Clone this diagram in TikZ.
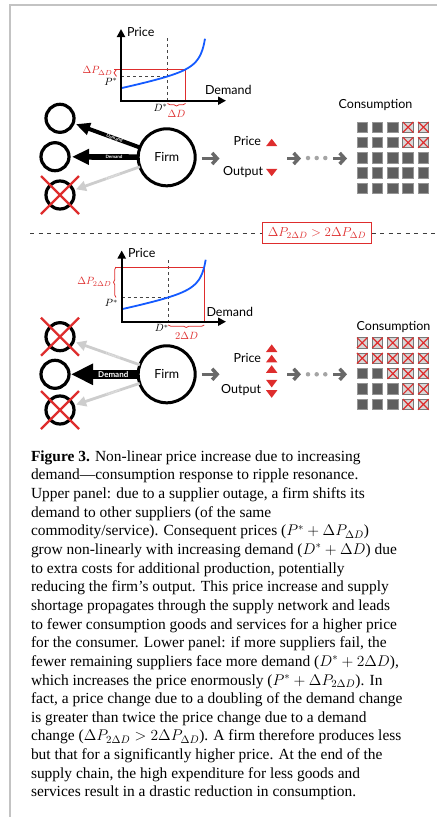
\RequirePackage{fix-cm}
\documentclass[tikz,border=0pt]{standalone}
\usepackage{amsmath,amssymb}
\usepackage{xcolor}
\usepackage{fontspec}
\setmainfont{Liberation Serif}
\newfontfamily\lato{Lato}
\usepackage{tikz}
\usetikzlibrary{arrows.meta,decorations.pathreplacing}

\begin{document}
\begin{tikzpicture}[x=1pt,y=-1pt,
  every node/.style={inner sep=0pt, outer sep=0pt},
  sans/.style={font=\lato\fontsize{12.5}{15}\selectfont},
  mlabel/.style={font=\fontsize{10.5}{12}\selectfont},
  redtext/.style={text={rgb,255:red,222;green,45;blue,45}},
  axisline/.style={line width=2pt,{Triangle[length=8pt,width=8pt]}-{Triangle[length=8pt,width=8pt]}},
  guide/.style={line width=0.9pt,dash pattern=on 3pt off 3pt,color={rgb,255:red,70;green,70;blue,70}},
  curve/.style={line width=1.8pt,color={rgb,255:red,20;green,90;blue,255}},
  redline/.style={line width=1pt,color={rgb,255:red,222;green,45;blue,45}},
  redbrace/.style={line width=0.8pt,color={rgb,255:red,222;green,45;blue,45},decorate,decoration={brace,amplitude=2.5pt}},
  firm/.style={circle,draw,line width=3pt,minimum size=57pt,sans},
  supplier/.style={circle,draw,line width=3.2pt,minimum size=28pt},
  redx/.style={line width=2.3pt,color={rgb,255:red,222;green,45;blue,45}},
  demandtop/.style={line width=4pt,-{Triangle[length=14pt,width=12pt]},shorten >=3pt},
  demandmid/.style={line width=5.7pt,-{Triangle[length=17pt,width=15pt]},shorten >=3pt},
  demandbig/.style={line width=9pt,-{Triangle[length=22pt,width=20pt]},shorten >=2pt},
  demandlost/.style={line width=2.8pt,color={rgb,255:red,205;green,205;blue,205},-{Triangle[length=10pt,width=10pt]},shorten >=3pt},
  tinytext/.style={text=white,font=\lato\bfseries\fontsize{4.5}{5}\selectfont},
  bigtext/.style={text=white,font=\lato\bfseries\fontsize{8}{9}\selectfont},
  fainttext/.style={text={rgb,255:red,240;green,240;blue,240},font=\lato\fontsize{4}{5}\selectfont},
  flow/.style={line width=3.5pt,color={rgb,255:red,105;green,105;blue,105},-{Straight Barb[length=5pt,width=11pt]}},
  chaindot/.style={circle,fill={rgb,255:red,165;green,165;blue,165},minimum size=4.5pt},
  uptri/.style={fill={rgb,255:red,222;green,45;blue,45}},
  good/.style={minimum size=10.5pt,fill={rgb,255:red,95;green,95;blue,95},draw={rgb,255:red,150;green,150;blue,150},line width=0.8pt},
  lost/.style={minimum size=10.5pt,fill={rgb,255:red,215;green,215;blue,215},draw={rgb,255:red,120;green,120;blue,120},line width=0.8pt},
  lostx/.style={line width=1.2pt,color={rgb,255:red,222;green,45;blue,45}},
  sepline/.style={line width=0.8pt,dash pattern=on 4pt off 4.5pt,color={rgb,255:red,60;green,60;blue,60}},
  frame/.style={line width=1.6pt,color={rgb,255:red,195;green,195;blue,195}}]
\useasboundingbox (0,0) rectangle (437,817);
\draw[frame] (10,817) -- (10,5) -- (437,5);

% upper panel: price curve
\coordinate (yA) at (121,29);
\coordinate (oA) at (121,100.7);
\coordinate (xA) at (226,100.7);
\draw[guide] (167.5,38) -- (167.5,100.7);
\draw[guide] (121,76.4) -- (167.5,76.4);
\draw[redline] (114,69.4) -- (185.5,69.4) -- (185.5,100.7);
\draw[curve] plot[domain=0:84,samples=70,smooth] ({121+\x},{100.7-12.5-0.2*\x-210/(90-\x)+2.333});
\draw[axisline] (yA) -- (oA) -- (xA);
\node[sans,anchor=west] (priceA) at (127,31.5) {Price};
\node[sans,anchor=west] (demandA) at (205,89.5) {Demand};
\node[mlabel,redtext,anchor=east] (dpA) at (112.5,71) {$\Delta P_{\Delta D}$};
\draw[redbrace] (116.5,76.4) -- (116.5,69.4);
\node[mlabel,anchor=east] (psA) at (117.5,82) {$P^{*}$};
\node[mlabel] (dsA) at (160.5,107.5) {$D^{*}$};
\draw[redbrace] (185.5,103.5) -- (167.5,103.5);
\node[mlabel,redtext] (ddA) at (176.5,114) {$\Delta D$};

% upper panel: network
\node[firm] (firmA) at (166.7,157.3) {Firm};
\node[supplier] (sA1) at (60,118.3) {};
\node[supplier] (sA2) at (55,156.7) {};
\node[supplier] (sA3) at (60,195) {};
\draw[demandlost] (firmA) -- node[pos=0.4,sloped,fainttext] (dA3) {Demand} (sA3);
\draw[demandtop] (firmA) -- node[pos=0.38,sloped,tinytext] (dA1) {Demand} (sA1);
\draw[demandmid] (firmA) -- node[pos=0.35,sloped,tinytext] (dA2) {Demand} (sA2);
\draw[redx] ([shift={(-19,-19)}]sA3.center) -- ([shift={(19,19)}]sA3.center);
\draw[redx] ([shift={(-19,19)}]sA3.center) -- ([shift={(19,-19)}]sA3.center);

\coordinate (fA1) at (201.5,158.5);
\coordinate (fA2) at (219.5,158.5);
\draw[flow] (fA1) -- (fA2);
\node[sans,anchor=east] (prA) at (261,141.3) {Price};
\node[sans,anchor=east] (ouA) at (263,172) {Output};
\fill[uptri] (266,146.2) -- (277.4,146.2) -- (271.7,138.8) -- cycle;
\fill[uptri] (266,168.8) -- (277.4,168.8) -- (271.7,176.2) -- cycle;
\coordinate (cA1) at (287,158.5);
\coordinate (cA2) at (301,158.5);
\coordinate (cA3) at (333,158.5);
\coordinate (cA4) at (347,158.5);
\draw[flow] (cA1) -- (cA2);
\node[chaindot] (pA1) at (308,158) {};
\node[chaindot] (pA2) at (316.7,158) {};
\node[chaindot] (pA3) at (325.3,158) {};
\draw[flow] (cA3) -- (cA4);

\node[sans,anchor=base] (conA) at (375.5,108.5) {Consumption};
\foreach \r in {1,...,5}{
  \foreach \c in {1,...,5}{
    \node[good] (gA\r\c) at ({362.2+15.3*(\c-1)},{127.2+15.3*(\r-1)}) {};
  }
}
\foreach \r/\c in {1/4,1/5,2/4,2/5}{
  \node[lost] (xA\r\c) at ({362.2+15.3*(\c-1)},{127.2+15.3*(\r-1)}) {};
  \draw[lostx] (xA\r\c.north west) -- (xA\r\c.south east) (xA\r\c.north east) -- (xA\r\c.south west);
}

% separator
\node[draw={rgb,255:red,222;green,45;blue,45},line width=0.9pt,redtext,inner xsep=5.5pt,minimum height=21pt,font=\fontsize{13}{15}\selectfont] (gap) at (317,233.3) {$\Delta P_{2\Delta D} > 2\Delta P_{\Delta D}$};
\coordinate (sepL) at (30,233.3);
\coordinate (sepR) at (437,233.3);
\draw[sepline] (sepL) -- (gap.west);
\draw[sepline] (gap.east) -- (sepR);

% lower panel: price curve
\coordinate (yB) at (121.7,250.5);
\coordinate (oB) at (121.7,321.7);
\coordinate (xB) at (226,321.7);
\draw[guide] (168.2,260) -- (168.2,321.7);
\draw[guide] (121.7,297.4) -- (168.2,297.4);
\draw[redline] (115,267) -- (204.2,267) -- (204.2,321.7);
\draw[curve] plot[domain=0:84,samples=70,smooth] ({121.7+\x},{321.7-12.5-0.2*\x-210/(90-\x)+2.333});
\draw[axisline] (yB) -- (oB) -- (xB);
\node[sans,anchor=west] (priceB) at (128,253.3) {Price};
\node[sans,anchor=west] (demandB) at (206.5,311.7) {Demand};
\node[mlabel,redtext,anchor=east] (dpB) at (111.5,282) {$\Delta P_{2\Delta D}$};
\draw[redbrace] (116,297.4) -- (116,267);
\node[mlabel,anchor=east] (psB) at (118,303.3) {$P^{*}$};
\node[mlabel] (dsB) at (161.7,328.3) {$D^{*}$};
\draw[redbrace] (204.2,325) -- (168.2,325);
\node[mlabel,redtext] (ddB) at (186.5,336) {$2\Delta D$};

% lower panel: network
\node[firm] (firmB) at (166.7,374.3) {Firm};
\node[supplier] (sB1) at (60,336.7) {};
\node[supplier] (sB2) at (55,374.3) {};
\node[supplier] (sB3) at (60,410) {};
\draw[demandlost] (firmB) -- node[pos=0.4,sloped,fainttext] (dB1) {Demand} (sB1);
\draw[demandlost] (firmB) -- node[pos=0.4,sloped,fainttext] (dB3) {Demand} (sB3);
\draw[demandbig] (firmB) -- node[pos=0.36,bigtext] (dB2) {Demand} (sB2);
\draw[redx] ([shift={(-19,-19)}]sB1.center) -- ([shift={(19,19)}]sB1.center);
\draw[redx] ([shift={(-19,19)}]sB1.center) -- ([shift={(19,-19)}]sB1.center);
\draw[redx] ([shift={(-19,-19)}]sB3.center) -- ([shift={(19,19)}]sB3.center);
\draw[redx] ([shift={(-19,19)}]sB3.center) -- ([shift={(19,-19)}]sB3.center);

\coordinate (fB1) at (201.5,374.3);
\coordinate (fB2) at (219.5,374.3);
\draw[flow] (fB1) -- (fB2);
\node[sans,anchor=east] (prB) at (261,358.3) {Price};
\node[sans,anchor=east] (ouB) at (261,390) {Output};
\fill[uptri] (266,352) -- (277.4,352) -- (271.7,344.4) -- cycle;
\fill[uptri] (266,362.4) -- (277.4,362.4) -- (271.7,354.8) -- cycle;
\fill[uptri] (266,372.8) -- (277.4,372.8) -- (271.7,365.2) -- cycle;
\fill[uptri] (266,379.8) -- (277.4,379.8) -- (271.7,387.4) -- cycle;
\fill[uptri] (266,390.2) -- (277.4,390.2) -- (271.7,397.8) -- cycle;
\coordinate (cB1) at (287,374.3);
\coordinate (cB2) at (301,374.3);
\coordinate (cB3) at (333,374.3);
\coordinate (cB4) at (347,374.3);
\draw[flow] (cB1) -- (cB2);
\node[chaindot] (pB1) at (308,374.3) {};
\node[chaindot] (pB2) at (316.7,374.3) {};
\node[chaindot] (pB3) at (325.3,374.3) {};
\draw[flow] (cB3) -- (cB4);

\node[sans,anchor=base] (conB) at (393.5,330) {Consumption};
\foreach \r in {1,...,5}{
  \foreach \c in {1,...,5}{
    \node[good] (gB\r\c) at ({362.2+15.3*(\c-1)},{342.8+15.4*(\r-1)}) {};
  }
}
\foreach \r/\c in {1/1,1/2,1/3,1/4,1/5,2/1,2/2,2/3,2/4,2/5,3/3,3/4,3/5,4/4,4/5,5/4,5/5}{
  \node[lost] (xB\r\c) at ({362.2+15.3*(\c-1)},{342.8+15.4*(\r-1)}) {};
  \draw[lostx] (xB\r\c.north west) -- (xB\r\c.south east) (xB\r\c.north east) -- (xB\r\c.south west);
}

% caption
\node[anchor=north west,align=left,font=\fontsize{15.45}{18.65}\selectfont] (caption) at (31,450.5) {%
\textbf{Figure 3.} Non-linear price increase due to increasing\\
demand—consumption response to ripple resonance.\\
Upper panel: due to a supplier outage, a firm shifts its\\
demand to other suppliers (of the same\\
commodity/service). Consequent prices ($P^{*}+\Delta P_{\Delta D}$)\\
grow non-linearly with increasing demand ($D^{*}+\Delta D$) due\\
to extra costs for additional production, potentially\\
reducing the firm’s output. This price increase and supply\\
shortage propagates through the supply network and leads\\
to fewer consumption goods and services for a higher price\\
for the consumer. Lower panel: if more suppliers fail, the\\
fewer remaining suppliers face more demand ($D^{*}+2\Delta D$),\\
which increases the price enormously ($P^{*}+\Delta P_{2\Delta D}$). In\\
fact, a price change due to a doubling of the demand change\\
is greater than twice the price change due to a demand\\
change ($\Delta P_{2\Delta D}>2\Delta P_{\Delta D}$). A firm therefore produces less\\
but that for a significantly higher price. At the end of the\\
supply chain, the high expenditure for less goods and\\
services result in a drastic reduction in consumption.};
\end{tikzpicture}
\end{document}
